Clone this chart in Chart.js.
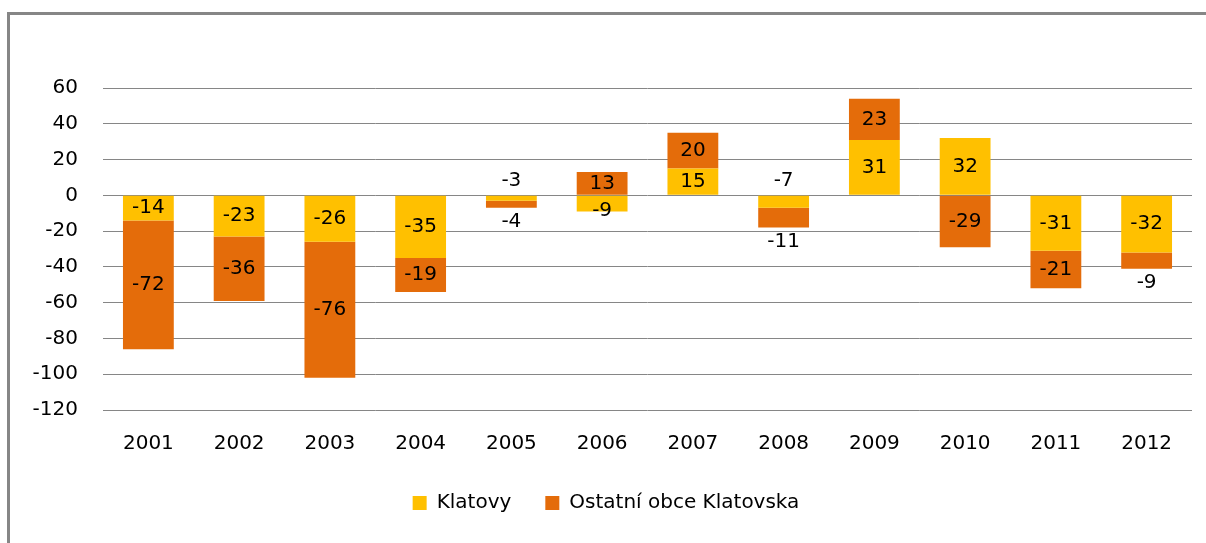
<!DOCTYPE html>
<html>
<head>
<meta charset="utf-8">
<script src="https://cdn.jsdelivr.net/npm/chart.js@4"></script>
<style>
  html, body { margin: 0; padding: 0; background: #fff; }
  #wrap { width: 1206px; height: 543px; position: relative; }
</style>
</head>
<body>
<div id="wrap"><canvas id="myChart"></canvas></div>
<script>
// chart data
var years = ['2001', '2002', '2003', '2004', '2005', '2006', '2007', '2008', '2009', '2010', '2011', '2012'];
var klatovy = [-14, -23, -26, -35, -3, -9, 15, -7, 31, 32, -31, -32];
var ostatni = [-72, -36, -76, -19, -4, 13, 20, -11, 23, -29, -21, -9];
var yTicks = [60, 40, 20, 0, -20, -40, -60, -80, -100, -120];

var FONT = 'DejaVu Sans';

// grey frame around the chart (only top and left are visible in the picture)
var framePlugin = {
    id: 'frame',
    beforeDraw: function (chart) {
        var ctx = chart.ctx;
        ctx.save();
        ctx.fillStyle = '#ffffff';
        ctx.fillRect(0, 0, chart.width, chart.height);
        ctx.strokeStyle = '#868686';
        ctx.lineWidth = 3;
        ctx.beginPath();
        ctx.moveTo(8.5, chart.height);
        ctx.lineTo(8.5, 13.5);
        ctx.lineTo(chart.width, 13.5);
        ctx.stroke();
        ctx.restore();
    }
};

// value labels on the bars
var labelPlugin = {
    id: 'barLabels',
    afterDatasetsDraw: function (chart) {
        var ctx = chart.ctx;
        ctx.save();
        ctx.font = '20px "' + FONT + '"';
        ctx.fillStyle = '#000';
        ctx.textAlign = 'center';
        ctx.textBaseline = 'middle';
        chart.data.datasets.forEach(function (ds, di) {
            var meta = chart.getDatasetMeta(di);
            meta.data.forEach(function (bar, i) {
                var v = ds.data[i];
                var top = Math.min(bar.y, bar.base);
                var bottom = Math.max(bar.y, bar.base);
                var h = bottom - top;
                var y = (top + bottom) / 2;
                if (h < 22) {
                    var other = chart.data.datasets[1 - di].data[i];
                    if (di === 0 && (other < 0) === (v < 0)) {
                        y = top - 15;
                    } else if (di === 0) {
                        y = y + 7;
                    } else {
                        y = v < 0 ? bottom + 14 : top - 14;
                    }
                }
                ctx.fillText(String(v), bar.x, y);
            });
        });
        ctx.restore();
    }
};

var data = {
    labels: years,
    datasets: [
        {
            label: 'Klatovy',
            data: klatovy,
            backgroundColor: '#FFC000',
            stack: 's'
        },
        {
            label: 'Ostatní obce Klatovska',
            data: ostatni,
            backgroundColor: '#E46C0A',
            stack: 's'
        }
    ]
};

var options = {
    responsive: true,
    maintainAspectRatio: false,
    animation: false,
    layout: { padding: { left: 20, top: 88, right: 14, bottom: 20 } },
    datasets: {
        bar: { barPercentage: 1, categoryPercentage: 0.56 }
    },
    plugins: {
        tooltip: { enabled: false },
        legend: {
            position: 'bottom',
            labels: {
                font: { family: FONT, size: 20 },
                color: '#000',
                boxWidth: 14,
                boxHeight: 14,
                padding: 34
            }
        }
    },
    scales: {
        x: {
            stacked: true,
            grid: { display: false, drawTicks: false },
            border: { display: false },
            ticks: { font: { family: FONT, size: 20 }, color: '#000', padding: 22, maxRotation: 0 },
            afterFit: function (s) { s.height = 49; }
        },
        y: {
            stacked: true,
            min: -120,
            max: 60,
            afterBuildTicks: function (s) {
                s.ticks = yTicks.map(function (v) { return { value: v }; });
            },
            grid: { color: '#868686', lineWidth: 1, drawTicks: false },
            border: { display: false },
            ticks: { font: { family: FONT, size: 20 }, color: '#000', padding: 25 },
            afterFit: function (s) { s.width = 83; }
        }
    }
};

var ctx = document.getElementById('myChart').getContext('2d');
var myChart = new Chart(ctx, {
    type: 'bar',
    data: data,
    options: options,
    plugins: [framePlugin, labelPlugin]
});
</script>
</body>
</html>
